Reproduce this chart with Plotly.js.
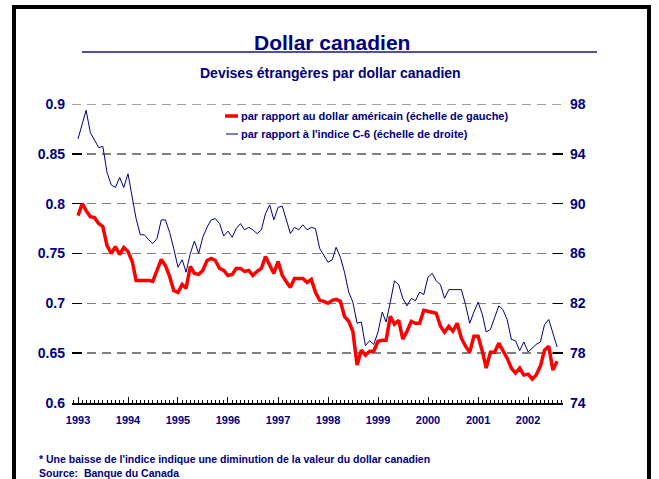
<!DOCTYPE html>
<html>
<head>
<meta charset="utf-8">
<script src="https://cdn.plot.ly/plotly-3.0.1.min.js"></script>
<style>
  body { margin: 0; background: #fff; }
  #chart { position: absolute; left: 0; top: 0; width: 659px; height: 479px; }
  #cadre { position: absolute; left: 12px; top: 5px; width: 639px; height: 600px;
           border: 4px solid #000; box-sizing: border-box; pointer-events: none; }
</style>
</head>
<body>
<div id="chart"></div>
<div id="cadre"></div>
<script>
// mois : janvier 1993 à août 2002
const debutAnnee = 1993;
const nbMois = 116;

// dollar américain par dollar canadien (échelle de gauche)
const usd = [
  0.788, 0.800, 0.793, 0.787, 0.786, 0.780, 0.777, 0.758, 0.750, 0.757, 0.749, 0.756,
  0.752, 0.742, 0.723, 0.723, 0.723, 0.723, 0.722, 0.733, 0.744, 0.738, 0.727, 0.713,
  0.711, 0.719, 0.715, 0.737, 0.730, 0.729, 0.733, 0.743, 0.745, 0.743, 0.735, 0.733,
  0.728, 0.729, 0.735, 0.735, 0.732, 0.733, 0.728, 0.732, 0.735, 0.747, 0.738, 0.730,
  0.742, 0.728, 0.722, 0.716, 0.725, 0.725, 0.725, 0.721, 0.724, 0.711, 0.703, 0.702,
  0.700, 0.703, 0.704, 0.702, 0.687, 0.682, 0.672, 0.638, 0.653, 0.648, 0.652, 0.652,
  0.662, 0.663, 0.663, 0.687, 0.679, 0.683, 0.664, 0.672, 0.682, 0.680, 0.680, 0.693,
  0.692, 0.691, 0.690, 0.677, 0.671, 0.677, 0.672, 0.680, 0.665, 0.657, 0.651, 0.667,
  0.667, 0.652, 0.635, 0.651, 0.651, 0.660, 0.653, 0.645, 0.635, 0.630, 0.635, 0.628,
  0.629, 0.624, 0.628, 0.637, 0.653, 0.657, 0.633, 0.642
];

// indice C-6 (échelle de droite)
const c6 = [
  95.2, 96.5, 97.5, 95.7, 95.1, 94.5, 94.6, 92.5, 91.5, 91.3, 92.1, 91.3,
  92.4, 90.5, 88.8, 87.5, 87.5, 87.1, 86.8, 87.2, 88.7, 88.7, 87.7, 86.4,
  84.9, 85.5, 84.5, 86.0, 87.0, 86.0, 87.3, 88.1, 88.7, 88.8, 88.4, 87.4,
  87.8, 87.3, 88.0, 88.4, 87.9, 88.1, 87.9, 87.6, 87.9, 89.2, 89.9, 88.7,
  89.7, 89.8, 88.8, 87.6, 88.1, 87.9, 88.3, 87.9, 88.1, 88.0, 86.4, 85.9,
  85.3, 85.5, 86.5, 85.7, 84.5, 82.9, 82.1, 80.4, 80.5, 78.6, 79.0, 78.7,
  79.7, 81.3, 80.5, 82.1, 83.8, 83.5, 82.4, 81.8, 82.4, 82.2, 82.9, 82.7,
  84.1, 84.4, 83.8, 83.5, 82.4, 83.1, 83.1, 83.1, 83.1, 81.9, 80.4, 81.3,
  82.1, 81.1, 79.7, 79.9, 80.8, 81.8, 81.5, 80.7, 79.1, 79.0, 78.2, 78.9,
  78.1, 78.4, 78.7, 78.9, 80.3, 80.7, 79.7, 78.5
];

const ticksGauche = [0.6, 0.65, 0.7, 0.75, 0.8, 0.85, 0.9];
const etiquettesGauche = ['0.6', '0.65', '0.7', '0.75', '0.8', '0.85', '0.9'];
const ticksDroite = [74, 78, 82, 86, 90, 94, 98];

const titre = 'Dollar canadien';
const sousTitre = 'Devises étrangères par dollar canadien';
const nomUsd = 'par rapport au dollar américain (échelle de gauche)';
const nomC6 = "par rapport à l'indice C-6 (échelle de droite)";
const note = "* Une baisse de l'indice indique une diminution de la valeur du dollar canadien";
const source = 'Source:  Banque du Canada';

const marine = '#000080';
const gris = '#808080';
const police = 'Liberation Sans, Arial, sans-serif';

// dates des mois
const mois = [];
for (let i = 0; i < nbMois; i++) {
  const a = debutAnnee + Math.floor(i / 12);
  const m = (i % 12) + 1;
  mois.push(a + '-' + (m < 10 ? '0' + m : m) + '-01');
}

const traceC6 = {
  x: mois, y: c6, yaxis: 'y2',
  mode: 'lines', type: 'scatter',
  line: { color: marine, width: 1 },
  hoverinfo: 'skip', showlegend: false
};

const traceUsd = {
  x: mois, y: usd,
  mode: 'lines', type: 'scatter',
  line: { color: '#ff0000', width: 3.5 },
  hoverinfo: 'skip', showlegend: false
};

// conversion pixels -> papier (zone de tracé 72..563 x 104..403)
const px = x => (x - 72) / 491;
const py = y => (403 - y) / 299;

const gras = t => '<b>' + t + '</b>';

const layout = {
  width: 659, height: 479,
  margin: { l: 72, r: 96, t: 104, b: 76 },
  paper_bgcolor: '#fff', plot_bgcolor: '#fff',
  font: { family: police, color: marine },
  showlegend: false,
  xaxis: {
    type: 'date',
    range: ['1992-11-18', '2002-09-13'],
    tick0: '1993-01-01', dtick: 'M12', tickformat: '%Y',
    ticks: 'inside', ticklen: 6, tickwidth: 1, tickcolor: '#000',
    minor: { dtick: 'M1', ticks: 'inside', ticklen: 3, tickwidth: 1, tickcolor: '#000', showgrid: false },
    showline: true, linecolor: '#000', linewidth: 1.5,
    showgrid: false, zeroline: false,
    ticklabelstandoff: 6,
    tickfont: { family: police, size: 11, color: marine, weight: 'bold' }
  },
  yaxis: {
    range: [0.6, 0.9],
    tickvals: ticksGauche, ticktext: etiquettesGauche,
    ticks: 'inside', ticklen: 10, tickwidth: 1.5, tickcolor: '#000',
    showgrid: true, gridcolor: gris, gridwidth: 1.5, griddash: '9px,6px',
    zeroline: false, showline: false,
    ticklabelstandoff: 6,
    tickfont: { family: police, size: 14, color: marine, weight: 'bold' }
  },
  yaxis2: {
    range: [74, 98], overlaying: 'y', side: 'right',
    tickvals: ticksDroite,
    ticks: 'inside', ticklen: 10, tickwidth: 1.5, tickcolor: '#000',
    showgrid: false, zeroline: false, showline: false,
    ticklabelstandoff: 6,
    tickfont: { family: police, size: 14, color: marine, weight: 'bold' }
  },
  shapes: [
    // ligne de grille du haut (masquée par Plotly au bord du tracé)
    { type: 'line', xref: 'paper', yref: 'y', x0: 0, x1: 1,
      y0: ticksGauche[ticksGauche.length - 1], y1: ticksGauche[ticksGauche.length - 1],
      layer: 'below', line: { color: gris, width: 1.5, dash: '9px,6px' } },
    // soulignement du titre
    { type: 'line', xref: 'paper', yref: 'paper', x0: px(82), x1: px(597), y0: py(52), y1: py(52),
      line: { color: '#5050a8', width: 2 } },
    // échantillons de légende
    { type: 'line', xref: 'paper', yref: 'paper', x0: px(225), x1: px(238), y0: py(116), y1: py(116),
      line: { color: '#ff0000', width: 3.5 } },
    { type: 'line', xref: 'paper', yref: 'paper', x0: px(226), x1: px(238), y0: py(134), y1: py(134),
      line: { color: marine, width: 1 } }
  ],
  annotations: [
    { text: gras(titre), xref: 'paper', yref: 'paper', x: px(332), y: py(43), showarrow: false,
      xanchor: 'center', yanchor: 'middle', font: { family: police, size: 21, color: marine } },
    { text: gras(sousTitre), xref: 'paper', yref: 'paper', x: px(330), y: py(73), showarrow: false,
      xanchor: 'center', yanchor: 'middle', font: { family: police, size: 14, color: marine } },
    { text: gras(nomUsd), xref: 'paper', yref: 'paper', x: px(239), y: py(116), showarrow: false,
      xanchor: 'left', yanchor: 'middle', font: { family: police, size: 11, color: marine } },
    { text: gras(nomC6), xref: 'paper', yref: 'paper', x: px(239), y: py(134), showarrow: false,
      xanchor: 'left', yanchor: 'middle', font: { family: police, size: 11, color: marine } },
    { text: gras(note), xref: 'paper', yref: 'paper', x: px(37), y: py(459), showarrow: false,
      xanchor: 'left', yanchor: 'middle', font: { family: police, size: 10.5, color: marine } },
    { text: gras(source), xref: 'paper', yref: 'paper', x: px(37), y: py(473), showarrow: false,
      xanchor: 'left', yanchor: 'middle', font: { family: police, size: 10.5, color: marine } }
  ]
};

Plotly.newPlot('chart', [traceC6, traceUsd], layout, { staticPlot: true, displayModeBar: false });
</script>
</body>
</html>
